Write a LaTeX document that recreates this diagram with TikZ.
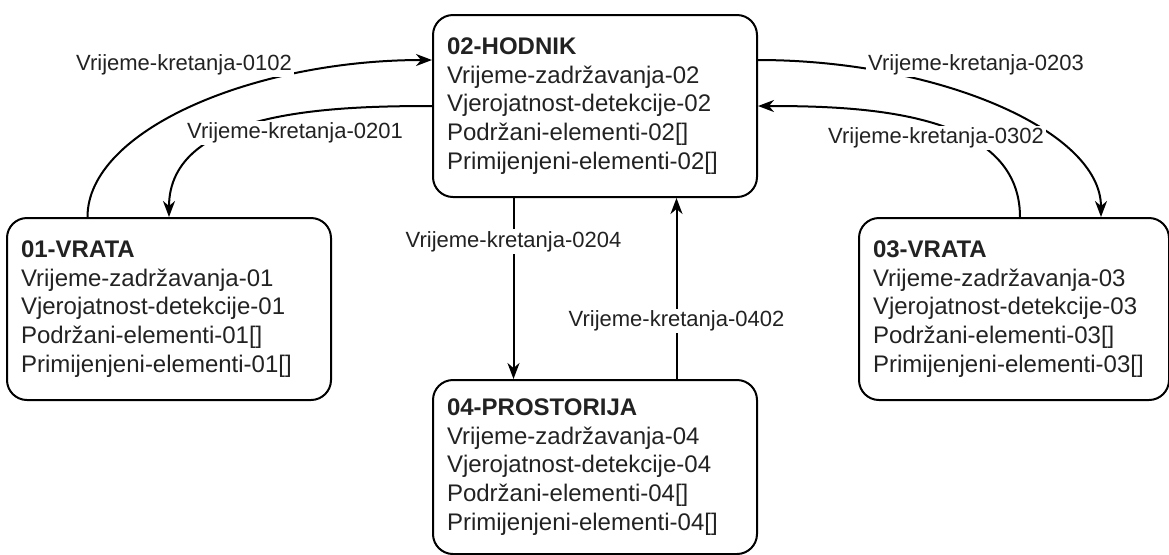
\documentclass[tikz,border=0pt]{standalone}
\usepackage{fontspec}
\setmainfont{Liberation Sans}
\usepackage{tikz}
\usetikzlibrary{positioning,calc,arrows.meta}
\definecolor{txtgray}{RGB}{34,34,34}

\begin{document}
\begin{tikzpicture}[x=0.5pt,y=-0.5pt]
     \tikzset{statebox/.style={draw, rounded corners=10pt, line width=1pt, align=left, text width=148pt, inner xsep=7pt, minimum height=91pt, text=txtgray, font=\fontsize{12}{14.4}\selectfont}}
     \tikzset{line/.style={draw, line width=1pt, -{Stealth[length=8pt,width=6pt,inset=2.5pt]}}}
     \tikzset{lbl/.style={fill=white, inner sep=1pt, text=txtgray, font=\fontsize{11}{13}\selectfont}}
     \useasboundingbox (0,0) rectangle (1169,554);

     \node [statebox] (v02) at (595,106) {\textbf{02-HODNIK}\\Vrijeme-zadržavanja-02\\Vjerojatnost-detekcije-02\\Podržani-elementi-02[]\\Primijenjeni-elementi-02[]};
     \node [statebox, below=90.5pt of v02, minimum height=87pt] (v04) {\textbf{04-PROSTORIJA}\\Vrijeme-zadržavanja-04\\Vjerojatnost-detekcije-04\\Podržani-elementi-04[]\\Primijenjeni-elementi-04[]};

     \node [statebox, below left=9.5pt and 50pt of v02.south west] (v01) {\textbf{01-VRATA}\\Vrijeme-zadržavanja-01\\Vjerojatnost-detekcije-01\\Podržani-elementi-01[]\\Primijenjeni-elementi-01[]};
     \node [statebox, below right=9.5pt and 50pt of v02.south east, text width=141pt] (v03) {\textbf{03-VRATA}\\Vrijeme-zadržavanja-03\\Vjerojatnost-detekcije-03\\Podržani-elementi-03[]\\Primijenjeni-elementi-03[]};

     \path [line] ($(v01.north west)!0.25!(v01.north east)$) .. controls +(0,-87) and +(-178,0) .. ($(v02.north west)!0.25!(v02.south west)$) node [lbl] (l0102) at (184,65) {Vrijeme-kretanja-0102};
     \path [line] (v02.west) .. controls +(-103,0) and +(0,-106) .. (v01.north) node [lbl] (l0201) at (295,133) {Vrijeme-kretanja-0201};

     \path [line] ($(v02.north east)!0.25!(v02.south east)$) .. controls +(178,0) and +(0,-87) .. ($(v03.north west)+(243,0)$) node [lbl] (l0203) at (976,65) {Vrijeme-kretanja-0203};
     \path [line] ($(v03.north west)+(162,0)$) .. controls +(0,-106) and +(103,0) .. (v02.east) node [lbl] (l0302) at (936,138) {Vrijeme-kretanja-0302};

     \path [line] ($(v02.south west)!0.25!(v02.south east)$) -- ($(v04.north west)!0.25!(v04.north east)$) node [lbl, pos=0.24] (l0204) {Vrijeme-kretanja-0204};
     \path [line] ($(v04.north west)!0.75!(v04.north east)$) -- ($(v02.south west)!0.75!(v02.south east)$) node [lbl, pos=0.32] (l0402) {Vrijeme-kretanja-0402};

   \end{tikzpicture}
\end{document}
